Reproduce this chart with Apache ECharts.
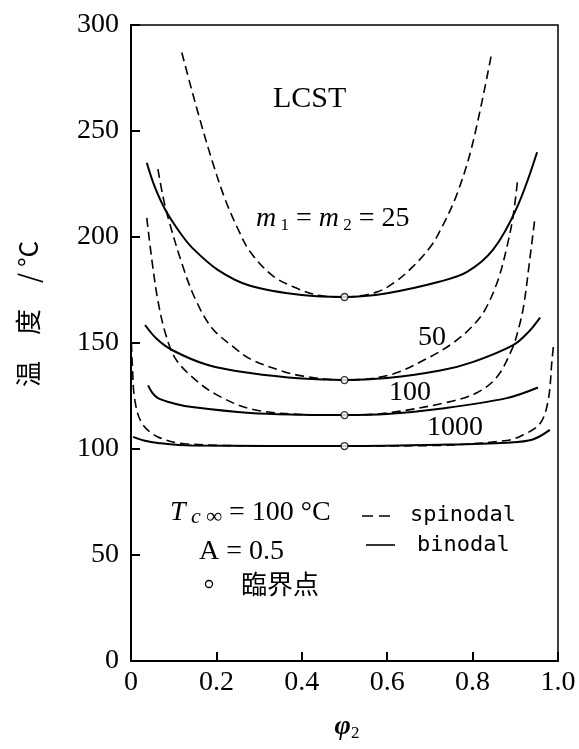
<!DOCTYPE html>
<html>
<head>
<meta charset="utf-8">
<script src="https://cdn.jsdelivr.net/npm/echarts@6/dist/echarts.min.js"></script>
<style>
  html, body { margin: 0; padding: 0; background: #fff; }
  #chart { width: 579px; height: 749px; }
</style>
</head>
<body>
<div id="chart"></div>
<script>
// φ2 / 温度 readings, spinodal = dashed, binodal = solid
const spin25 = [[0.119,287],[0.14,271],[0.162,255],[0.19,236],[0.22,218],[0.25,204],[0.279,193],[0.33,182],[0.38,176.5],[0.44,172.5],[0.5,171.7],[0.575,174],[0.62,179],[0.66,186],[0.7,195],[0.724,203],[0.763,220],[0.8,244],[0.845,287]];
const bin25 = [[0.037,235],[0.055,224],[0.08,213],[0.115,202],[0.143,195],[0.204,184.4],[0.279,177],[0.4,172.6],[0.5,171.7],[0.6,173.5],[0.724,179],[0.787,183.5],[0.848,194],[0.904,214],[0.951,240]];
const spin50 = [[0.063,232],[0.075,219],[0.087,209],[0.12,187],[0.15,171],[0.19,157],[0.244,147.5],[0.279,142.5],[0.35,137],[0.4,134.5],[0.5,132.5],[0.607,135],[0.7,143.4],[0.754,150],[0.8,158],[0.83,166],[0.86,180],[0.88,195],[0.895,210],[0.906,228]];
const bin50 = [[0.033,158.5],[0.06,152],[0.096,146.7],[0.18,139.6],[0.279,135.8],[0.4,133.2],[0.5,132.5],[0.6,133.5],[0.724,137],[0.8,141],[0.895,149],[0.93,155],[0.958,162]];
const spin100 = [[0.037,209],[0.049,189],[0.063,170],[0.08,155],[0.103,143],[0.143,134],[0.197,126],[0.279,119],[0.4,116.3],[0.5,116],[0.6,117],[0.74,122],[0.81,126.5],[0.857,134],[0.892,147],[0.908,157],[0.92,168],[0.933,188],[0.946,209]];
const bin100 = [[0.04,130],[0.05,126.5],[0.063,124],[0.1,121.5],[0.143,119.8],[0.279,117],[0.4,116.2],[0.5,116],[0.6,116.5],[0.724,119],[0.88,124],[0.953,129]];
const spin1000 = [[0.001,150],[0.003,140],[0.009,123],[0.026,112],[0.063,105.7],[0.126,102.5],[0.3,101.5],[0.5,101.4],[0.7,101.6],[0.88,104],[0.918,106.6],[0.958,112],[0.977,123],[0.986,142],[0.99,150]];
const bin1000 = [[0.005,105.7],[0.03,104],[0.063,102.8],[0.143,101.6],[0.5,101.4],[0.724,102],[0.88,103],[0.941,104.5],[0.981,109]];
// 臨界点
const critical = [[0.5,171.7],[0.5,132.5],[0.5,116],[0.5,101.4]];

const serif = 'Liberation Serif';

function curve(data, dashed) {
  return {
    type: 'line',
    data: data,
    showSymbol: false,
    smooth: 0.35,
    silent: true,
    z: dashed ? 2 : 3,
    lineStyle: { color: '#000', width: dashed ? 1.6 : 2, type: dashed ? [9, 5] : 'solid' }
  };
}

const chart = echarts.init(document.getElementById('chart'));
const option = {
  animation: false,
  backgroundColor: '#fff',
  grid: { left: 131, right: 21, top: 25, bottom: 88, show: true, borderColor: '#000', borderWidth: 1.5 },
  xAxis: {
    type: 'value', min: 0, max: 1, interval: 0.2,
    axisLine: { show: true, lineStyle: { color: '#000', width: 2 } },
    axisTick: { show: true, inside: true, length: 9, lineStyle: { color: '#000', width: 2 } },
    splitLine: { show: false },
    axisLabel: {
      color: '#000', fontFamily: serif, fontSize: 28, margin: 8,
      formatter: v => (v === 0 ? '0' : v.toFixed(1))
    }
  },
  yAxis: {
    type: 'value', min: 0, max: 300, interval: 50,
    axisLine: { show: true, lineStyle: { color: '#000', width: 2 } },
    axisTick: { show: true, inside: true, length: 9, lineStyle: { color: '#000', width: 2 } },
    splitLine: { show: false },
    axisLabel: { color: '#000', fontFamily: serif, fontSize: 28, margin: 12 }
  },
  series: [
    curve(spin25, true), curve(bin25, false),
    curve(spin50, true), curve(bin50, false),
    curve(spin100, true), curve(bin100, false),
    curve(spin1000, true), curve(bin1000, false),
    {
      type: 'scatter', data: critical, symbol: 'circle', symbolSize: 7, z: 5, silent: true,
      itemStyle: { color: '#fff', borderColor: '#000', borderWidth: 1.3 }
    }
  ],
  graphic: [
    { type: 'text', left: 273, top: 84, style: { text: 'LCST', font: '30px "Liberation Serif"', fill: '#000' } },
    {
      type: 'text', x: 256, y: 219,
      style: {
        text: '{i|m}{s| 1}{n| = }{i|m}{s| 2}{n| = 25}',
        verticalAlign: 'middle',
        rich: {
          i: { fontFamily: serif, fontStyle: 'italic', fontSize: 28, lineHeight: 30 },
          s: { fontFamily: serif, fontSize: 17, lineHeight: 12, verticalAlign: 'bottom' },
          n: { fontFamily: serif, fontSize: 28, lineHeight: 30 }
        }
      }
    },
    { type: 'text', x: 432, y: 338, style: { text: '50', font: '28px "Liberation Serif"', fill: '#000', align: 'center', verticalAlign: 'middle' } },
    { type: 'text', x: 410, y: 393, style: { text: '100', font: '28px "Liberation Serif"', fill: '#000', align: 'center', verticalAlign: 'middle' } },
    { type: 'text', x: 455, y: 428, style: { text: '1000', font: '28px "Liberation Serif"', fill: '#000', align: 'center', verticalAlign: 'middle' } },
    {
      type: 'text', x: 170, y: 513,
      style: {
        text: '{i|T}{s| c ∞}{n| = 100 °C}',
        verticalAlign: 'middle',
        rich: {
          i: { fontFamily: serif, fontStyle: 'italic', fontSize: 28, lineHeight: 30 },
          s: { fontFamily: serif, fontStyle: 'italic', fontSize: 22, lineHeight: 12, verticalAlign: 'bottom' },
          n: { fontFamily: serif, fontSize: 28, lineHeight: 30 }
        }
      }
    },
    { type: 'text', x: 199, y: 552, style: { text: 'A = 0.5', font: '28px "Liberation Serif"', fill: '#000', verticalAlign: 'middle' } },
    { type: 'circle', shape: { cx: 209, cy: 584, r: 3.5 }, style: { fill: '#fff', stroke: '#000', lineWidth: 1.3 } },
    { type: 'text', x: 241, y: 584, style: { text: '臨界点', font: '26px "Noto Sans CJK JP"', fill: '#000', verticalAlign: 'middle' } },
    { type: 'line', shape: { x1: 362, y1: 516, x2: 392, y2: 516 }, style: { stroke: '#000', lineWidth: 1.6, lineDash: [11, 6] } },
    { type: 'text', x: 410, y: 515, style: { text: 'spinodal', font: '22px "DejaVu Sans Mono"', fill: '#000', verticalAlign: 'middle' } },
    { type: 'line', shape: { x1: 366, y1: 545, x2: 395, y2: 545 }, style: { stroke: '#000', lineWidth: 1.6 } },
    { type: 'text', x: 417, y: 545, style: { text: 'binodal', font: '22px "DejaVu Sans Mono"', fill: '#000', verticalAlign: 'middle' } },
    {
      type: 'text', x: 28, y: 314, rotation: Math.PI / 2,
      style: { text: '温\u2003度\u2003/ °C', font: '26px "Noto Sans CJK SC"', fill: '#000', align: 'center', verticalAlign: 'middle' }
    },
    {
      type: 'text', x: 347, y: 727,
      style: {
        text: '{p|φ}{s|2}',
        align: 'center', verticalAlign: 'middle',
        rich: {
          p: { fontFamily: serif, fontStyle: 'italic', fontWeight: 'bold', fontSize: 28, lineHeight: 30 },
          s: { fontFamily: serif, fontSize: 17, lineHeight: 12, verticalAlign: 'bottom' }
        }
      }
    }
  ]
};
chart.setOption(option);
</script>
</body>
</html>
